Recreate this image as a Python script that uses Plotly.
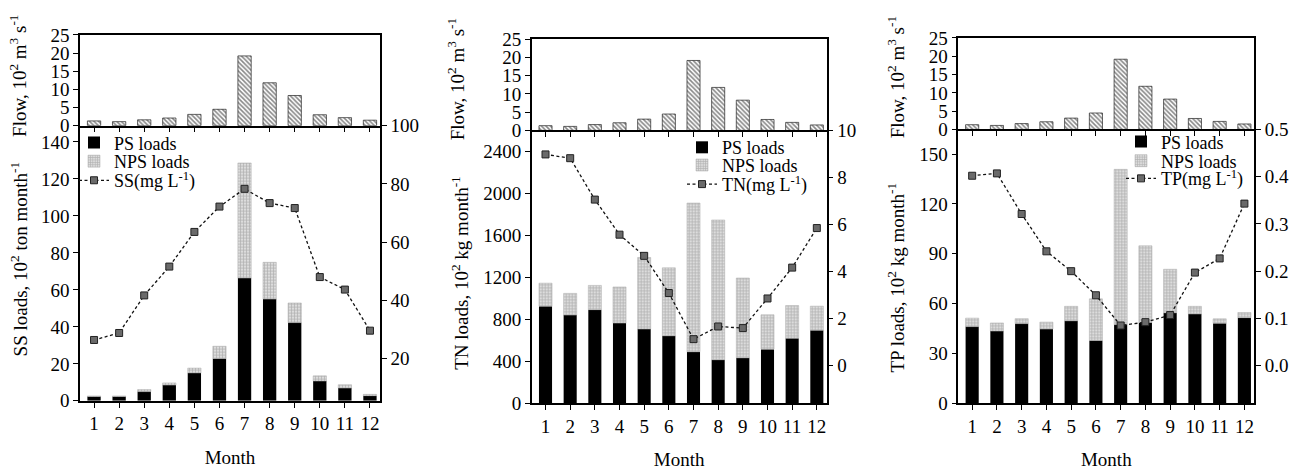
import plotly.graph_objects as go

W, H = 1295, 473
months = list(range(1, 13))
month_labels = [str(m) for m in months]

flow = [1.3, 1.1, 1.6, 2.1, 3.1, 4.5, 19.2, 11.8, 8.3, 3.0, 2.2, 1.5]

ss_ps = [2.4, 2.4, 5.0, 8.5, 15.1, 22.9, 66.4, 55.0, 42.3, 10.7, 6.9, 2.8]
ss_nps = [0.2, 0.2, 1.1, 1.2, 2.6, 6.6, 62.2, 19.9, 10.6, 2.8, 1.8, 0.7]
ss_conc = [26.4, 28.8, 41.7, 51.6, 63.5, 72.2, 78.3, 73.4, 71.7, 48.0, 43.7, 29.6]

tn_ps = [926, 841, 893, 765, 708, 644, 492, 416, 434, 516, 620, 696]
tn_nps = [219, 207, 231, 344, 682, 647, 1416, 1331, 760, 328, 312, 230]
tn_conc = [8.98, 8.82, 7.06, 5.57, 4.67, 3.09, 1.13, 1.67, 1.60, 2.86, 4.17, 5.85]

tp_ps = [46.2, 43.5, 48.0, 44.7, 49.7, 37.9, 47.4, 48.7, 54.5, 53.8, 48.2, 51.6]
tp_nps = [5.1, 4.9, 3.0, 4.2, 8.7, 25.0, 93.4, 46.1, 26.2, 4.6, 2.7, 3.1]
tp_conc = [0.402, 0.407, 0.321, 0.242, 0.200, 0.149, 0.085, 0.092, 0.107, 0.197, 0.227, 0.343]

FONT = "Liberation Serif"
FS = 19
LFS = 18
FLOW_TITLE = "Flow, 10<sup>2</sup> m<sup>3</sup> s<sup>-1</sup>"

def px_x(p):
    return p / W

def px_y(p):
    return 1 - p / H

panels = [
    dict(x=(80, 380), flow_top=26, mid=121, bot=409,
         ps=ss_ps, nps=ss_nps, conc=ss_conc, cname="SS(mg L<sup>-1</sup>)",
         ytitle="SS loads, 10<sup>2</sup> ton month<sup>-1</sup>",
         yrange=[0, 148.8], yticks=[0, 20, 40, 60, 80, 100, 120, 140],
         y2range=[5.5, 100], y2ticks=[20, 40, 60, 80, 100], y2fmt="",
         legx=74, legy=(139, 158.5, 178.5),
         ft=(18, 69), bt=(19, 261)),
    dict(x=(531.7, 826.7), flow_top=30.7, mid=126, bot=411.7,
         ps=tn_ps, nps=tn_nps, conc=tn_conc, cname="TN(mg L<sup>-1</sup>)",
         ytitle="TN loads, 10<sup>2</sup> kg month<sup>-1</sup>",
         yrange=[0, 2600], yticks=[0, 400, 800, 1200, 1600, 2000, 2400],
         y2range=[-1.6, 10], y2ticks=[0, 2, 4, 6, 8, 10], y2fmt="",
         legx=682, legy=(144, 162.5, 182.5),
         ft=(456, 72.5), bt=(460, 276)),
    dict(x=(958.3, 1254.3), flow_top=29.3, mid=125, bot=411.7,
         ps=tp_ps, nps=tp_nps, conc=tp_conc, cname="TP(mg L<sup>-1</sup>)",
         ytitle="TP loads, 10<sup>2</sup> kg month<sup>-1</sup>",
         yrange=[0, 164.8], yticks=[0, 30, 60, 90, 120, 150],
         y2range=[-0.08, 0.5], y2ticks=[0.0, 0.1, 0.2, 0.3, 0.4, 0.5], y2fmt=".1f",
         legx=1121, legy=(138, 158, 176.5),
         ft=(896, 70.5), bt=(896, 280)),
]

fig = go.Figure()
layout = dict(
    width=W, height=H, margin=dict(l=0, r=0, t=0, b=0),
    plot_bgcolor="white", paper_bgcolor="white",
    barmode="relative", bargap=0.47,
    font=dict(family=FONT, size=FS, color="black"),
    showlegend=True,
)

axis_common = dict(showline=True, linecolor="black", linewidth=1.5,
                   ticks="outside", ticklen=5, tickwidth=1.2, tickcolor="black",
                   showgrid=False, zeroline=False, ticklabeloverflow="allow",
                   tickfont=dict(family=FONT, size=FS, color="black"))

annotations = []
leg_index = 0

def nm(prefix, n):
    return prefix if n == 1 else f"{prefix}{n}"

for i, p in enumerate(panels):
    xa_f, xa_b = 2 * i + 1, 2 * i + 2
    ya_f, ya_b, ya_r = 3 * i + 1, 3 * i + 2, 3 * i + 3
    xdom = [px_x(p["x"][0]), px_x(p["x"][1])]

    legnames = []
    for j in range(3):
        leg_index += 1
        ln = nm("legend", leg_index)
        legnames.append(ln)
        layout[ln] = dict(
            x=px_x(p["legx"]), y=px_y(p["legy"][j]), xanchor="left", yanchor="middle",
            bgcolor="rgba(0,0,0,0)", borderwidth=0,
            font=dict(family=FONT, size=LFS, color="black"),
            itemwidth=30)

    # flow bars
    fig.add_trace(go.Bar(
        x=months, y=flow, xaxis=nm("x", xa_f), yaxis=nm("y", ya_f),
        marker=dict(color="white", line=dict(color="#222", width=0.7),
                    pattern=dict(shape="\\", fgcolor="#111", bgcolor="white",
                                 size=3.2, solidity=0.5)),
        showlegend=False, hoverinfo="x+y"))
    # PS loads
    fig.add_trace(go.Bar(
        x=months, y=p["ps"], xaxis=nm("x", xa_b), yaxis=nm("y", ya_b),
        name="PS loads", marker=dict(color="black", line=dict(width=0)),
        legend=legnames[0]))
    # NPS loads
    fig.add_trace(go.Bar(
        x=months, y=p["nps"], xaxis=nm("x", xa_b), yaxis=nm("y", ya_b),
        name="NPS loads",
        marker=dict(color="#d4d4d4", line=dict(color="#aaaaaa", width=0.5),
                    pattern=dict(shape="+", fgcolor="#808080", bgcolor="#dcdcdc",
                                 size=3, solidity=0.4)),
        legend=legnames[1]))
    # concentration line
    fig.add_trace(go.Scatter(
        x=months, y=p["conc"], xaxis=nm("x", xa_b), yaxis=nm("y", ya_r),
        name=p["cname"], mode="lines+markers",
        line=dict(color="#111", width=1.3, dash="3px,2.5px"),
        marker=dict(symbol="square", size=7, color="#6a6a6a",
                    line=dict(color="#222", width=1)),
        legend=legnames[2]))

    # flow x axis
    layout[nm("xaxis", xa_f)] = dict(
        **axis_common, domain=xdom, anchor=nm("y", ya_f), range=[0.44, 12.4],
        tickvals=months, showticklabels=False, mirror=True)
    # flow y axis
    layout[nm("yaxis", ya_f)] = dict(
        **axis_common, domain=[px_y(p["mid"]), px_y(p["flow_top"])],
        anchor=nm("x", xa_f), range=[0, 25], tickvals=[0, 5, 10, 15, 20, 25],
        mirror=True)
    # bottom x axis
    layout[nm("xaxis", xa_b)] = dict(
        **axis_common, domain=xdom, anchor=nm("y", ya_b), range=[0.44, 12.4],
        tickvals=months, ticktext=month_labels,
        title=dict(text="Month", font=dict(family=FONT, size=FS), standoff=17))
    # bottom left y
    layout[nm("yaxis", ya_b)] = dict(
        **axis_common, domain=[px_y(p["bot"]), px_y(p["mid"])],
        anchor=nm("x", xa_b), range=p["yrange"], tickvals=p["yticks"])
    # bottom right y
    layout[nm("yaxis", ya_r)] = dict(
        **axis_common, overlaying=nm("y", ya_b), side="right",
        anchor=nm("x", xa_b), range=p["y2range"], tickvals=p["y2ticks"],
        tickformat=p["y2fmt"])

    # y-axis titles as rotated annotations
    annotations.append(dict(
        text=FLOW_TITLE, textangle=-90, showarrow=False,
        xref="paper", yref="paper", x=px_x(p["ft"][0]), y=px_y(p["ft"][1]),
        xanchor="center", yanchor="middle",
        font=dict(family=FONT, size=FS, color="black")))
    annotations.append(dict(
        text=p["ytitle"], textangle=-90, showarrow=False,
        xref="paper", yref="paper", x=px_x(p["bt"][0]), y=px_y(p["bt"][1]),
        xanchor="center", yanchor="middle",
        font=dict(family=FONT, size=FS, color="black")))

layout["annotations"] = annotations
fig.update_layout(**layout)
fig.write_html("out.html", config={"displayModeBar": False},
               post_script="document.body.style.margin='0px';document.body.style.overflow='hidden';")
